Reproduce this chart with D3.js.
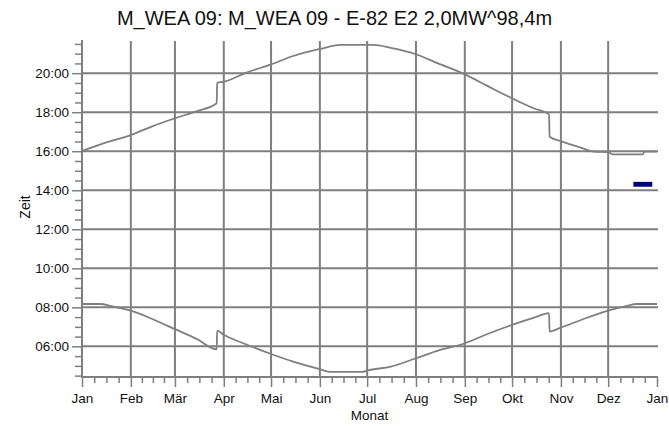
<!DOCTYPE html>
<html><head><meta charset="utf-8">
<script src="https://cdn.jsdelivr.net/npm/d3@7"></script>
<style>
html,body{margin:0;padding:0;background:#fff;}
text{font-family:"Liberation Sans",Arial,sans-serif;fill:#111;}
</style></head>
<body>
<svg id="chart" width="669" height="426"></svg>
<script>
// ---- data ----
const title = "M_WEA 09: M_WEA 09 - E-82 E2 2,0MW^98,4m";
const monthLabels = ["Jan","Feb","Mär","Apr","Mai","Jun","Jul","Aug","Sep","Okt","Nov","Dez","Jan"];
const monthStartDays = [0,31,59,90,120,151,181,212,243,273,304,334,365];
const hourTicks = [6,8,10,12,14,16,18,20];
const hourLabels = ["06:00","08:00","10:00","12:00","14:00","16:00","18:00","20:00"];

// upper curve (evening limit), day of year -> hour
const eveningDays  = [0,14,31,45,59,73,85.5,85.8,90,104,120,134,151,164,185,196,212,226,243,257,273,287,296.5,296.8,304,318,325,334,337,356,357,365];
const eveningHours = [16.01,16.41,16.83,17.29,17.69,18.06,18.46,19.51,19.56,20.02,20.45,20.88,21.24,21.45,21.45,21.30,20.97,20.50,19.94,19.36,18.71,18.19,17.89,16.74,16.52,16.15,15.98,15.95,15.84,15.84,15.98,15.98];

// lower curve (morning limit)
const morningDays  = [0,12,18,31,45,59,73,85.5,85.8,90,104,120,134,151,158,178,181,196,212,226,243,257,273,287,296.5,296.8,304,318,334,346,352,365];
const morningHours = [8.17,8.17,8.07,7.83,7.39,6.88,6.37,5.85,6.81,6.59,6.11,5.61,5.22,4.83,4.69,4.69,4.76,4.96,5.39,5.78,6.16,6.62,7.10,7.47,7.70,6.76,6.96,7.39,7.83,8.07,8.17,8.17];

// shadow period (blue)
const shadowStartDays = [350];
const shadowEndDays   = [362];
const shadowFrom      = [14.18];
const shadowTo        = [14.43];

// ---- layout ----
const svg = d3.select("#chart");
const pL = 82, pR = 657, pT = 40, pB = 377;
const gray = "#7f7f7f";

const x = d3.scaleLinear().domain([0,365]).range([pL,pR]);
const y = d3.scaleLinear().domain([4.43,21.70]).range([pB,pT]);

// title
svg.append("text").attr("x",334.5).attr("y",25).attr("text-anchor","middle")
  .style("font-size","20px").text(title);

// grid
const grid = svg.append("g");
grid.selectAll("line.h").data(hourTicks).join("line")
  .attr("x1",pL).attr("x2",pR+1).attr("y1",d=>y(d)).attr("y2",d=>y(d))
  .attr("stroke",gray).attr("stroke-width",2);
grid.selectAll("line.v").data(monthStartDays.slice(1,12)).join("line")
  .attr("x1",d=>x(d)).attr("x2",d=>x(d)).attr("y1",pT+1).attr("y2",pB)
  .attr("stroke",gray).attr("stroke-width",2);

// axes
const minorHours = d3.range(4.5,21.51,0.5).filter(h=>h%2!==0);
const yAxis = d3.axisLeft(y).tickValues(minorHours).tickSize(7).tickFormat("");
const gy = svg.append("g").attr("transform",`translate(${pL},0)`).call(yAxis);
const yAxisMajor = d3.axisLeft(y).tickValues(hourTicks).tickSize(10).tickPadding(3)
  .tickFormat((d,i)=>hourLabels[i]);
const gy2 = svg.append("g").attr("transform",`translate(${pL},0)`).call(yAxisMajor);
[gy,gy2].forEach(g=>{
  g.select(".domain").attr("stroke",gray).attr("stroke-width",2).attr("d",`M0,${pT}V${pB}`);
  g.selectAll(".tick line").attr("stroke",gray).attr("stroke-width",1.5);
  g.selectAll(".tick text").style("font-size","13.5px").style("font-family","Liberation Sans, Arial, sans-serif").attr("fill","#111");
});

const minorDays = [];
for (let i=0;i<12;i++){ const a=monthStartDays[i], b=monthStartDays[i+1]; for(let k=1;k<4;k++) minorDays.push(a+(b-a)*k/4); }
const xAxisMinor = d3.axisBottom(x).tickValues(minorDays).tickSize(6).tickFormat("");
const gx = svg.append("g").attr("transform",`translate(0,${pB})`).call(xAxisMinor);
const xAxisMajor = d3.axisBottom(x).tickValues(monthStartDays).tickSize(10).tickPadding(6)
  .tickFormat((d,i)=>monthLabels[i]);
const gx2 = svg.append("g").attr("transform",`translate(0,${pB})`).call(xAxisMajor);
[gx,gx2].forEach(g=>{
  g.select(".domain").attr("stroke",gray).attr("stroke-width",2).attr("d",`M${pL-1},0H${pR+1}`);
  g.selectAll(".tick line").attr("stroke",gray).attr("stroke-width",1.5);
  g.selectAll(".tick text").style("font-size","13.5px").style("font-family","Liberation Sans, Arial, sans-serif").attr("fill","#111");
});

// axis titles
svg.append("text").attr("x",(pL+pR)/2).attr("y",420).attr("text-anchor","middle")
  .style("font-size","13.5px").text("Monat");
svg.append("text").attr("transform","translate(30,207) rotate(-90)").attr("text-anchor","middle")
  .style("font-size","14px").text("Zeit");

// curves
const line = d3.line().x(d=>x(d[0])).y(d=>y(d[1])).curve(d3.curveMonotoneX);
svg.append("path").datum(eveningDays.map((d,i)=>[d,eveningHours[i]]))
  .attr("d",line).attr("fill","none").attr("stroke",gray).attr("stroke-width",1.8);
svg.append("path").datum(morningDays.map((d,i)=>[d,morningHours[i]]))
  .attr("d",line).attr("fill","none").attr("stroke",gray).attr("stroke-width",1.8);

// shadow rectangles
svg.selectAll("rect.shadow").data(shadowStartDays.map((d,i)=>({s:d,e:shadowEndDays[i],f:shadowFrom[i],t:shadowTo[i]})))
  .join("rect").attr("x",d=>x(d.s)).attr("width",d=>x(d.e)-x(d.s))
  .attr("y",d=>y(d.t)).attr("height",d=>y(d.f)-y(d.t)).attr("fill","#000080");
</script>
</body></html>
